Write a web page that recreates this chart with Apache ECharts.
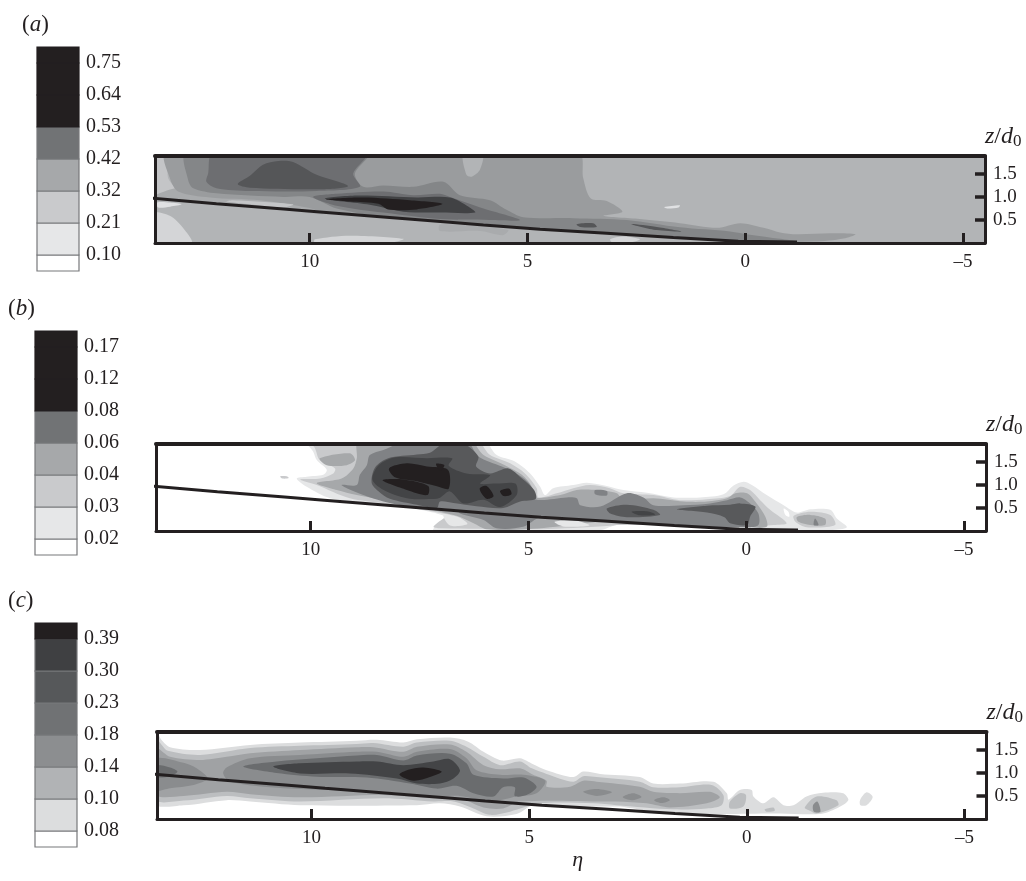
<!DOCTYPE html>
<html><head><meta charset="utf-8">
<style>html,body{margin:0;padding:0;background:#fff}#c{width:1026px;height:881px}</style>
<script src="https://cdn.jsdelivr.net/npm/echarts@6/dist/echarts.min.js"></script>
</head><body><div id="c"></div>
<script>
// ---------- data ----------
const etaTicks = [10, 5, 0, -5];
const zTicks = [0.5, 1.0, 1.5];
const legendA = ['0.10','0.21','0.32','0.42','0.53','0.64','0.75'];
const legendB = ['0.02','0.03','0.04','0.06','0.08','0.12','0.17'];
const legendC = ['0.08','0.10','0.14','0.18','0.23','0.30','0.39'];
const bedEta = [13.6,12.14,10.6,9.69,8.31,6.78,6.01,4.71,3.18,1.65,0.16,-1.19];
const bedZ   = [0.97,0.855,0.74,0.67,0.565,0.45,0.39,0.30,0.21,0.12,0.04,0.02];

// each contour: [level, outline of [eta, z/d0]]
const contoursA = [
 [2,[[13.6,1.95],[13.29,1.95],[13.25,1.41],[13.06,1.12],[13.6,1.0]]],
 [1,[[13.6,.64],[13.21,.59],[12.9,.32],[12.71,0],[13.6,0]]],
 [4,[[13.6,1.02],[13.0,1.2],[12.29,1.1],[11.14,1.0],[10.0,.78],[9.69,.62],[10.6,.72],[12.14,.84],[13.6,.97]]],
 [5,[[13.29,1.95],[3.83,1.95],[3.72,1.41],[3.55,.97],[3.18,.91],[2.82,.68],[3.26,.59],[2.42,.52],[1.5,.43],[.65,.33],[.11,.43],[-.42,.33],[-.80,.23],[-1.19,.19],[-1.95,.21],[-2.53,.19],[-2.26,.10],[-1.57,.03],[.16,.03],[1.65,.12],[3.18,.21],[4.71,.30],[6.78,.45],[8.31,.57],[9.69,.66],[10.0,.76],[11.14,.93],[12.29,.99],[13.02,1.12],[13.21,1.41]]],
 [6,[[12.83,1.95],[8.65,1.95],[8.96,1.51],[8.77,1.22],[8.31,1.25],[7.62,1.22],[6.93,1.33],[6.55,1.04],[5.86,.93],[5.48,.72],[5.1,.56],[3.95,.54],[2.72,.50],[1.5,.34],[.35,.25],[-.11,.18],[-.8,.09],[-1.19,.03],[.16,.03],[1.65,.12],[3.18,.21],[4.71,.30],[6.01,.39],[6.78,.45],[8.31,.57],[9.38,.75],[10.0,1.0],[10.6,1.0],[12.14,1.08],[12.67,1.19],[12.79,1.37]]],
 [7,[[12.22,1.95],[8.69,1.95],[9.0,1.51],[8.85,1.22],[9.84,1.13],[11.37,1.13],[12.14,1.19],[12.37,1.33],[12.33,1.51]]],
 [8,[[11.65,1.28],[11.37,1.46],[11.07,1.7],[10.72,1.78],[10.38,1.76],[9.84,1.48],[9.12,1.24],[9.69,1.17],[11.37,1.2]]],
 [2,[[11.91,.9],[11.76,.93],[10.38,.84],[10.6,.77],[11.37,.84]]],
 [0,[[13.5,.88],[13.2,.88],[12.94,.84],[13.2,.79],[13.48,.77]]],
 [7,[[9.92,1.0],[9.38,1.07],[8.31,1.12],[7.62,1.04],[7.01,1.07],[6.78,1.0],[6.01,.75],[5.17,.5],[5.86,.5],[7.01,.52],[8.31,.66],[9.38,.81]]],
 [9,[[9.65,.96],[8.92,1.03],[7.54,.99],[6.78,.99],[6.35,.79],[6.2,.66],[7.01,.66],[7.85,.68],[8.62,.83]]],
 [10,[[9.62,.95],[8.77,.99],[7.7,.93],[6.95,.85],[7.54,.73],[8.2,.73],[8.42,.85],[9.08,.90]]],
 [8,[[3.87,.41],[3.49,.43],[3.41,.35],[3.79,.35]]],
 [8,[[2.61,.41],[2.03,.35],[1.46,.25],[2.03,.28]]],
 [3,[[6.47,1.95],[6.03,1.95],[6.09,1.59],[6.28,1.44],[6.4,1.48]]],
 [0,[[1.86,.78],[1.50,.82],[1.53,.77],[1.80,.75]]],
 [1,[[9.88,.08],[9.08,.16],[7.85,.09],[8.16,0],[9.88,0]]],
 [1,[[3.1,.08],[2.8,.14],[2.42,.08],[2.72,0],[3.03,0]]],
 [4,[[7.01,.40],[6.55,.39],[6.01,.35],[5.44,.28],[5.56,.17],[6.09,.26],[7.01,.26]]]
];
const contoursB = [
 [0,[[10.09,1.95],[6.03,1.95],[5.73,1.65],[5.31,1.51],[4.96,1.25],[4.73,.96],[4.62,.78],[4.43,.93],[3.97,1.0],[3.66,1.05],[3.2,.98],[2.82,.89],[2.28,.83],[1.67,.73],[1.06,.73],[.52,.80],[.29,.99],[.06,1.07],[-.13,1.0],[-.47,.78],[-.86,.56],[-1.16,.40],[-1.47,.47],[-1.93,.46],[-2.08,.27],[-2.31,.08],[-1.93,.02],[-.78,.02],[.16,.03],[1.65,.12],[2.97,.13],[3.35,.02],[7.18,.02],[7.1,.13],[6.88,.31],[7.95,.54],[8.71,.60],[9.55,.71],[10.09,.96],[10.32,1.14],[10.09,1.18],[9.71,1.22],[9.63,1.33],[9.86,1.54],[9.94,1.72]]],
 [1,[[10.7,1.19],[10.55,1.19],[10.5,1.15],[10.65,1.14]]],
 [1,[[10.01,1.95],[6.19,1.95],[5.88,1.65],[5.42,1.47],[5.08,1.25],[4.81,.93],[4.77,.73],[4.35,.82],[3.97,.93],[3.59,1.0],[3.13,.93],[2.82,.82],[2.13,.78],[1.52,.67],[.9,.69],[.37,.76],[.14,.96],[-.09,.89],[-.32,.67],[-.55,.46],[-.93,.17],[-.63,.13],[0,.09],[1.65,.12],[2.9,.13],[3.2,.11],[4.73,.04],[7.03,.06],[7.18,.09],[6.95,.27],[6.8,.35],[8.33,.60],[9.1,.71],[9.86,1.0],[10.24,1.12],[9.78,1.14],[9.48,1.25],[9.44,1.36],[9.79,1.54],[9.9,1.8]]],
 [2,[[9.79,1.58],[9.1,1.69],[8.98,1.54],[9.17,1.43],[9.63,1.43]]],
 [2,[[8.9,1.95],[6.34,1.95],[6.03,1.65],[5.54,1.43],[5.15,1.22],[4.92,.96],[4.85,.73],[4.27,.78],[3.89,.89],[3.43,.89],[2.97,.82],[2.82,.67],[2.13,.71],[1.44,.64],[.9,.64],[.44,.71],[.25,.82],[-.02,.82],[-.24,.6],[-.44,.31],[-.47,.09],[-.02,.08],[1.65,.12],[3.18,.21],[3.97,.13],[5.04,.04],[5.96,.04],[6.26,.17],[6.65,.33],[7.03,.42],[7.56,.53],[8.33,.67],[8.94,.78],[9.4,.89],[9.86,1.04],[9.29,1.14],[9.02,1.36],[8.94,1.58]]],
 [3,[[7.8,1.95],[6.42,1.95],[6.15,1.62],[5.61,1.40],[5.23,1.22],[4.96,1.0],[4.85,.69],[4.12,.73],[3.89,.71],[3.81,.56],[3.35,.53],[2.74,.82],[2.36,.73],[2.13,.56],[1.44,.56],[.83,.60],[.44,.67],[.14,.73],[-.09,.6],[-.28,.38],[-.28,.13],[-.02,.08],[1.65,.12],[3.18,.21],[4.71,.30],[5.12,.09],[5.73,.06],[6.03,.24],[6.57,.38],[6.65,.46],[6.95,.49],[7.72,.53],[8.33,.64],[8.79,.78],[9.17,.93],[9.29,1.0],[8.94,1.0],[8.87,1.22],[8.71,1.43],[8.64,1.65],[8.33,1.76]]],
 [4,[[8.6,1.05],[8.52,1.38],[8.22,1.58],[7.56,1.66],[7.26,1.7],[6.95,1.9],[6.5,1.9],[6.15,1.62],[6.2,1.4],[5.88,1.25],[5.46,1.36],[5.15,1.14],[4.87,.89],[4.83,.7],[5.19,.64],[5.58,.5],[6.19,.54],[6.72,.61],[7.03,.64],[7.1,.5],[7.56,.57],[8.18,.7],[8.45,.87]]],
 [5,[[8.58,1.11],[8.45,1.42],[8.05,1.6],[7.33,1.58],[6.75,1.58],[6.83,1.42],[6.42,1.25],[5.88,1.21],[6.11,1.03],[5.73,1.03],[5.3,1.03],[5.27,.78],[5.65,.52],[6.03,.68],[6.49,.6],[6.8,.86],[7.03,.72],[7.1,.7],[7.72,.7],[8.28,.87]]],
 [6,[[8.2,1.36],[7.79,1.47],[7.33,1.40],[6.85,1.33],[6.83,.92],[7.1,.97],[7.56,1.08],[8.05,1.16]]],
 [6,[[8.35,1.1],[7.87,1.12],[7.3,.98],[7.32,.78],[7.79,.89]]],
 [6,[[7.12,1.46],[6.93,1.43],[7.03,1.31]]],
 [6,[[6.12,.92],[5.96,.98],[5.8,.76],[5.96,.7]]],
 [6,[[5.65,.87],[5.44,.92],[5.39,.8],[5.57,.76]]],
 [4,[[3.2,.49],[2.74,.57],[2.13,.46],[1.98,.35],[2.74,.30],[3.12,.38]]],
 [5,[[2.63,.42],[2.28,.43],[2.09,.36],[2.44,.34]]],
 [4,[[1.59,.47],[.9,.55],[.37,.57],[.14,.6],[-.21,.53],[-.09,.31],[-.02,.13],[.37,.17],[.5,.3],[.9,.4]]],
 [3,[[3.47,.89],[3.2,.87],[3.2,.77],[3.47,.8]]],
 [1,[[-1.09,.33],[-1.47,.42],[-1.93,.35],[-2.04,.13],[-1.39,.08],[-1.13,.2]]],
 [2,[[-1.16,.30],[-1.47,.35],[-1.81,.27],[-1.81,.13],[-1.47,.13],[-1.2,.2]]],
 [3,[[-1.58,.27],[-1.66,.13],[-1.55,.13]]],
 [7,[[-.86,.49],[-.97,.42],[-.99,.31],[-.9,.35]]],
 [0,[[6.95,.35],[6.6,.3],[6.4,.15],[6.8,.12]]],
 [0,[[4.4,.2],[3.9,.22],[3.6,.12],[4.2,.1]]]
];
const contoursC = [
 [0,[[13.6,1.95],[13.45,1.72],[13.25,1.56],[12.56,1.5],[11.41,1.61],[10.26,1.66],[8.96,1.7],[8.5,1.72],[7.89,1.66],[7.58,1.73],[6.82,1.77],[6.4,1.68],[6.05,1.46],[5.63,1.27],[5.21,1.32],[4.91,1.19],[4.6,1.06],[3.99,.91],[3.76,1.03],[3.37,.98],[2.46,.91],[2.15,.77],[1.54,.77],[.77,.81],[.46,.56],[.42,.42],[.16,.63],[-.11,.63],[-.15,.49],[-.38,.34],[-.61,.47],[-.84,.3],[-1.07,.3],[-1.37,.49],[-1.75,.57],[-2.21,.56],[-2.33,.41],[-2.06,.23],[-1.68,.11],[-.76,.12],[.39,.11],[.92,.11],[2.15,.16],[2.91,.27],[3.22,.27],[4.14,.27],[4.91,.3],[5.29,.11],[5.98,.06],[6.59,.27],[7.05,.34],[7.58,.3],[10.26,.3],[11.41,.38],[11.95,.41],[12.94,.3],[13.6,.34]]],
 [0,[[-2.6,.41],[-2.75,.58],[-2.89,.48],[-2.75,.3],[-2.61,.3]]],
 [1,[[13.6,1.78],[13.45,1.62],[13.3,1.48],[12.56,1.39],[11.41,1.54],[10.26,1.59],[8.96,1.63],[8.58,1.65],[7.89,1.57],[7.58,1.66],[6.82,1.7],[6.44,1.57],[6.05,1.35],[5.67,1.17],[5.21,1.25],[4.94,1.1],[4.6,.98],[3.99,.81],[3.76,.93],[3.45,.91],[2.46,.81],[2.15,.69],[1.54,.69],[.81,.74],[.54,.52],[.58,.3],[.92,.23],[1.69,.21],[3.0,.3],[3.53,.34],[4.75,.34],[5.44,.16],[5.9,.09],[6.28,.23],[6.74,.38],[7.2,.38],[8.35,.45],[10.26,.38],[11.41,.45],[11.95,.5],[12.94,.4],[13.6,.43]]],
 [1,[[.39,.38],[.16,.56],[.02,.52],[.08,.27],[.39,.23]]],
 [1,[[-.41,.21],[-.61,.25],[-.64,.18],[-.45,.16]]],
 [1,[[-1.33,.25],[-1.6,.49],[-2.06,.41],[-2.1,.3],[-1.6,.12],[-1.45,.18]]],
 [3,[[-1.52,.3],[-1.62,.38],[-1.69,.16],[-1.54,.16]]],
 [2,[[13.6,1.55],[13.25,1.35],[12.56,1.28],[11.95,1.35],[11.41,1.43],[10.26,1.5],[8.96,1.56],[8.58,1.56],[7.89,1.46],[7.58,1.57],[6.82,1.62],[6.44,1.46],[6.05,1.17],[5.67,1.08],[5.21,1.1],[4.91,.96],[4.6,.83],[4.6,.7],[4.06,.7],[3.76,.83],[3.45,.81],[2.46,.7],[2.15,.59],[1.54,.56],[.85,.59],[.62,.47],[.92,.34],[1.77,.25],[2.3,.34],[3.0,.38],[3.22,.38],[5.21,.38],[5.6,.23],[6.05,.25],[6.59,.45],[7.2,.45],[8.35,.52],[10.26,.47],[11.41,.54],[11.95,.59],[12.94,.5],[13.6,.54]]],
 [3,[[13.6,1.3],[12.94,1.22],[12.64,1.1],[12.39,.88],[12.71,.74],[13.25,.67],[13.6,.63]]],
 [4,[[13.6,1.16],[13.25,1.12],[13.08,1.03],[13.25,.93],[13.6,.92]]],
 [3,[[11.95,1.12],[11.41,1.32],[10.26,1.39],[8.96,1.46],[8.5,1.46],[7.89,1.35],[7.58,1.46],[6.82,1.52],[6.44,1.32],[6.21,1.06],[5.67,.96],[5.13,.96],[4.63,.83],[4.83,.56],[5.29,.49],[5.9,.38],[6.59,.5],[7.13,.49],[8.35,.6],[10.65,.67],[11.87,.81],[12.03,.99]]],
 [4,[[11.57,1.14],[10.8,1.25],[8.96,1.38],[8.5,1.39],[7.89,1.27],[7.58,1.38],[6.82,1.42],[6.44,1.21],[6.28,.96],[5.6,.88],[5.13,.9],[4.83,.7],[5.06,.52],[5.33,.5],[5.33,.69],[5.6,.69],[5.82,.49],[6.28,.56],[6.67,.72],[7.13,.66],[7.74,.77],[8.73,.9],[9.88,.92],[10.8,1.0]]],
 [5,[[10.88,1.14],[10.26,1.21],[8.96,1.25],[8.5,1.25],[7.89,1.17],[7.2,1.25],[6.82,1.3],[6.59,1.06],[6.74,.88],[7.05,.77],[7.58,.77],[8.04,.88],[9.12,.99],[10.26,.99]]],
 [6,[[7.98,.96],[7.78,1.07],[7.43,1.12],[7.01,1.03],[7.28,.91],[7.66,.83]]],
 [3,[[3.76,.59],[3.45,.65],[3.1,.58],[3.45,.5]]],
 [3,[[2.85,.48],[2.61,.56],[2.42,.48],[2.65,.41]]],
 [3,[[2.13,.41],[1.92,.47],[1.77,.41],[1.96,.35]]]
];

// ---------- styling (not data) ----------
const ink = '#231f20';
const shadesA = ['#e0e1e3','#d4d5d7','#c4c5c7','#b2b4b6','#a9abad','#9a9c9e','#848688','#6d6e71','#555658','#414244','#231f20'];
const shadesB = ['#e6e7e8','#c9cacc','#a6a8aa','#808285','#58595b','#434446','#231f20','#ffffff'];
const shadesC = ['#dcddde','#bcbec0','#a0a2a4','#8a8c8e','#6a6c6e','#434446','#231f20'];
const barA = ['#ffffff','#e6e7e8','#c9cacc','#a6a8aa','#717375','#231f20','#231f20','#231f20'];
const barB = barA;
const barC = ['#ffffff','#dcddde','#b1b3b5','#8c8e90','#707274','#56585a','#3f4042','#231f20'];
const serif = '"Liberation Serif","Times New Roman",serif';

const panels = [
 {top:156, left:155, contours:contoursA, shades:shadesA, bg:'#b2b4b6', legend:legendA, bar:barA, barLeft:37, barTop:47, tag:'a', tagLeft:22, tagTop:13},
 {top:444, left:156, contours:contoursB, shades:shadesB, bg:'#ffffff', legend:legendB, bar:barB, barLeft:35, barTop:331, tag:'b', tagLeft:8, tagTop:297},
 {top:732, left:157, contours:contoursC, shades:shadesC, bg:'#ffffff', legend:legendC, bar:barC, barLeft:35, barTop:623, tag:'c', tagLeft:8, tagTop:589}
];

const grid=[], xAxis=[], yAxis=[], series=[], title=[];
panels.forEach((p,i)=>{
  const g = grid.length;
  grid.push({left:p.left, top:p.top, width:830, height:87, show:true, backgroundColor:p.bg, borderWidth:0, containLabel:false});
  const xb = xAxis.length;
  xAxis.push({gridIndex:g, type:'value', position:'bottom', inverse:true, min:-5.505, max:13.55, z:10,
    name:i===2?'η':'', nameLocation:'middle', nameGap:15,
    nameTextStyle:{fontFamily:serif, fontStyle:'italic', fontSize:22, color:ink, padding:[0,0,0,12]},
    splitLine:{show:false},
    axisLine:{show:true, onZero:false, lineStyle:{color:ink, width:3}},
    axisTick:{show:true, inside:true, length:10, customValues:etaTicks, lineStyle:{color:ink, width:3}},
    axisLabel:{show:true, customValues:etaTicks, margin:10, fontFamily:serif, fontSize:19, color:ink,
      formatter:v=> v<0 ? '–'+Math.abs(v) : String(v)}});
  xAxis.push({gridIndex:g, type:'value', position:'top', inverse:true, min:-5.505, max:13.55, z:10,
    splitLine:{show:false}, axisTick:{show:false}, axisLabel:{show:false},
    axisLine:{show:true, onZero:false, lineStyle:{color:ink, width:4}}});
  const yr = yAxis.length;
  yAxis.push({gridIndex:g, type:'value', position:'right', min:0, max:1.89, z:10,
    name:'{i|z}/{i|d}{s|0}', nameLocation:'end', nameGap:6,
    nameTextStyle:{align:'left', verticalAlign:'bottom', fontFamily:serif, fontSize:24, color:ink,
      rich:{i:{fontFamily:serif, fontStyle:'italic', fontSize:24, color:ink},
            s:{fontFamily:serif, fontSize:17, color:ink, padding:[10,0,0,0]}}},
    splitLine:{show:false},
    axisLine:{show:true, onZero:false, lineStyle:{color:ink, width:3}},
    axisTick:{show:true, inside:true, length:10, customValues:zTicks, lineStyle:{color:ink, width:3.5}},
    axisLabel:{show:true, customValues:zTicks, margin:8, fontFamily:serif, fontSize:19, color:ink, formatter:v=>v.toFixed(1)}});
  yAxis.push({gridIndex:g, type:'value', position:'left', min:0, max:1.89, z:10,
    splitLine:{show:false}, axisTick:{show:false}, axisLabel:{show:false},
    axisLine:{show:true, onZero:false, lineStyle:{color:ink, width:3}}});
  const c = p.contours;
  series.push({type:'custom', xAxisIndex:xb, yAxisIndex:yr, clip:true, silent:true, z:2,
    data:c.map(k=>[k[1][0][0], k[1][0][1]]),
    renderItem:(params,api)=>{
      const k = c[params.dataIndex];
      return {type:'polygon', shape:{points:k[1].map(q=>api.coord(q)), smooth:0.3},
              style:{fill:p.shades[k[0]], stroke:null}};
    }});
  series.push({type:'line', xAxisIndex:xb, yAxisIndex:yr, z:4, silent:true, symbol:'none',
    data:bedEta.map((e,n)=>[e,bedZ[n]]), lineStyle:{color:ink, width:3}});

  // colour bar
  const lg = grid.length;
  grid.push({left:p.barLeft, top:p.barTop, width:42, height:224, containLabel:false});
  const lx = xAxis.length, ly = yAxis.length;
  const idx = p.legend.map((_,n)=>n);
  xAxis.push({gridIndex:lg, type:'value', min:0, max:1, show:false});
  yAxis.push({gridIndex:lg, type:'value', position:'right', min:-0.5, max:6.5,
    splitLine:{show:false}, axisLine:{show:false}, axisTick:{show:false},
    axisLabel:{show:true, customValues:idx, margin:7, fontFamily:serif, fontSize:20, color:ink,
      formatter:v=>p.legend[Math.round(v)]}});
  series.push({type:'custom', xAxisIndex:lx, yAxisIndex:ly, silent:true, z:3,
    data:p.bar.map((_,n)=>[n]),
    renderItem:(params,api)=>{
      const n = params.dataIndex;
      const a = api.coord([0, n===0?-0.5:n-1]), b = api.coord([1, n===7?6.5:n]);
      return {type:'rect', shape:{x:a[0], y:b[1], width:b[0]-a[0], height:a[1]-b[1]},
              style:{fill:p.bar[n], stroke:p.bar[n]===ink?ink:'#77787b', lineWidth:1.2}};
    }});

  title.push({left:p.tagLeft, top:p.tagTop, padding:0, text:'({i|'+p.tag+'})',
    textStyle:{fontFamily:serif, fontWeight:'normal', fontSize:23, color:ink,
      rich:{i:{fontFamily:serif, fontStyle:'italic', fontSize:23, color:ink}}}});
});

const chart = echarts.init(document.getElementById('c'), null, {renderer:'canvas', width:1026, height:881});
chart.setOption({animation:false, backgroundColor:'#ffffff', title, grid, xAxis, yAxis, series});
</script>
</body></html>
